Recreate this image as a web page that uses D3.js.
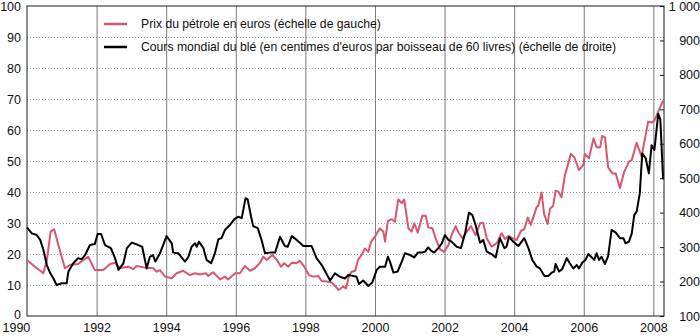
<!DOCTYPE html>
<html><head><meta charset="utf-8">
<script src="https://cdn.jsdelivr.net/npm/d3@7"></script>
<style>
body{margin:0;background:#fff}
svg{display:block}
text{font-family:"Liberation Sans",Arial,Helvetica,sans-serif;fill:#111}
</style>
</head><body>
<svg id="chart" width="700" height="336"></svg>
<script>
// ---------- data ----------
const xTicks = [1990, 1992, 1994, 1996, 1998, 2000, 2002, 2004, 2006, 2008];
const leftTicks = [0, 10, 20, 30, 40, 50, 60, 70, 80, 90, 100];
const rightTicks = [100, 200, 300, 400, 500, 600, 700, 800, 900, 1000];
const legendLabels = [
  "Prix du pétrole en euros (échelle de gauche)",
  "Cours mondial du blé (en centimes d'euros par boisseau de 60 livres) (échelle de droite)"
];
// [decimal year, euros per barrel] (left scale)
const oilPrice = [
[1990.00,18.1],[1990.23,15.9],[1990.47,13.8],[1990.57,18.0],[1990.68,27.2],[1990.78,28.0],[1990.90,23.0],[1991.09,15.4],[1991.24,16.5],[1991.47,16.8],[1991.62,18.1],[1991.76,19.1],[1991.95,14.8],[1992.19,14.8],[1992.39,16.8],[1992.53,17.2],[1992.67,15.5],[1992.91,15.9],[1993.05,15.1],[1993.15,16.1],[1993.39,15.6],[1993.63,15.4],[1993.73,14.3],[1993.82,14.8],[1993.97,12.7],[1994.16,12.2],[1994.30,13.8],[1994.49,14.6],[1994.68,13.2],[1994.83,13.8],[1994.97,13.4],[1995.14,13.8],[1995.21,12.9],[1995.35,14.1],[1995.55,11.8],[1995.69,12.7],[1995.78,11.8],[1995.98,13.8],[1996.12,13.8],[1996.26,16.1],[1996.41,14.6],[1996.55,15.4],[1996.70,17.2],[1996.79,19.1],[1996.89,18.1],[1997.05,19.7],[1997.18,18.1],[1997.30,15.9],[1997.39,17.0],[1997.51,15.9],[1997.61,17.2],[1997.73,17.0],[1997.84,17.8],[1997.97,15.9],[1998.10,13.2],[1998.23,12.7],[1998.37,12.9],[1998.47,11.3],[1998.61,11.1],[1998.76,10.8],[1998.95,8.4],[1999.09,9.5],[1999.17,8.9],[1999.26,13.2],[1999.33,14.3],[1999.43,14.6],[1999.52,18.3],[1999.62,19.7],[1999.71,21.8],[1999.81,20.7],[1999.89,24.0],[2000.00,25.6],[2000.14,28.3],[2000.24,27.2],[2000.29,24.0],[2000.37,30.7],[2000.48,31.2],[2000.57,30.4],[2000.67,37.6],[2000.77,36.4],[2000.84,37.6],[2000.96,28.3],[2001.05,27.2],[2001.13,29.9],[2001.23,26.9],[2001.36,32.3],[2001.46,32.3],[2001.53,28.6],[2001.65,28.3],[2001.74,25.1],[2001.87,21.5],[2001.99,20.7],[2002.11,22.9],[2002.22,26.7],[2002.32,29.0],[2002.41,26.7],[2002.51,25.1],[2002.64,27.2],[2002.76,29.0],[2002.89,26.1],[2003.02,29.9],[2003.11,30.1],[2003.21,25.1],[2003.35,22.4],[2003.50,23.5],[2003.64,26.7],[2003.74,24.8],[2003.83,25.8],[2003.95,25.1],[2004.07,24.5],[2004.20,27.5],[2004.29,28.0],[2004.39,31.8],[2004.48,29.4],[2004.65,35.3],[2004.69,35.5],[2004.79,39.8],[2004.86,32.9],[2004.96,29.7],[2005.03,34.7],[2005.12,35.5],[2005.19,40.4],[2005.27,40.1],[2005.36,38.3],[2005.46,45.5],[2005.63,52.3],[2005.73,51.2],[2005.86,47.1],[2005.99,48.7],[2006.03,52.3],[2006.15,50.9],[2006.28,57.3],[2006.37,54.4],[2006.47,54.4],[2006.53,58.1],[2006.61,57.6],[2006.70,48.0],[2006.82,46.0],[2006.92,46.0],[2007.04,41.2],[2007.16,46.5],[2007.30,49.8],[2007.38,50.3],[2007.52,55.9],[2007.66,51.4],[2007.76,57.3],[2007.85,62.7],[2007.95,62.4],[2008.03,63.0],[2008.14,65.9],[2008.28,69.5]
];
// [decimal year, euro cents per bushel] (right scale)
const wheatPrice = [
[1990.00,357],[1990.14,340],[1990.28,335],[1990.38,321],[1990.47,292],[1990.57,248],[1990.67,224],[1990.76,209],[1990.85,190],[1991.00,195],[1991.14,195],[1991.19,229],[1991.33,253],[1991.47,268],[1991.57,265],[1991.67,277],[1991.81,306],[1991.95,309],[1992.03,338],[1992.13,338],[1992.24,306],[1992.41,297],[1992.53,268],[1992.63,234],[1992.77,253],[1992.87,297],[1993.01,313],[1993.20,306],[1993.31,301],[1993.44,238],[1993.53,272],[1993.62,277],[1993.69,258],[1993.82,282],[1994.01,332],[1994.16,311],[1994.20,284],[1994.35,282],[1994.54,258],[1994.64,272],[1994.73,301],[1994.83,311],[1994.88,301],[1994.94,316],[1995.07,297],[1995.16,263],[1995.29,253],[1995.40,282],[1995.50,323],[1995.59,326],[1995.69,350],[1995.83,364],[1995.96,381],[1996.07,388],[1996.17,384],[1996.28,442],[1996.34,439],[1996.44,388],[1996.50,361],[1996.63,355],[1996.74,321],[1996.84,282],[1996.98,284],[1997.13,284],[1997.27,330],[1997.41,303],[1997.49,301],[1997.61,332],[1997.75,321],[1997.84,313],[1997.94,303],[1998.18,303],[1998.32,268],[1998.47,248],[1998.61,222],[1998.71,203],[1998.85,224],[1998.99,214],[1999.14,209],[1999.23,219],[1999.38,216],[1999.47,214],[1999.54,193],[1999.66,203],[1999.81,187],[1999.92,197],[2000.05,234],[2000.14,243],[2000.29,243],[2000.37,272],[2000.43,258],[2000.53,226],[2000.65,229],[2000.77,258],[2000.86,282],[2001.01,277],[2001.13,270],[2001.23,284],[2001.34,284],[2001.44,287],[2001.53,299],[2001.61,290],[2001.70,284],[2001.82,297],[2001.92,311],[2002.01,335],[2002.11,321],[2002.20,316],[2002.35,301],[2002.47,297],[2002.59,340],[2002.70,400],[2002.80,393],[2002.89,364],[2003.02,313],[2003.11,321],[2003.21,287],[2003.35,280],[2003.47,270],[2003.59,326],[2003.72,297],[2003.78,301],[2003.85,330],[2003.97,316],[2004.12,303],[2004.29,326],[2004.41,297],[2004.52,263],[2004.65,243],[2004.74,238],[2004.87,216],[2004.98,216],[2005.08,226],[2005.15,229],[2005.19,251],[2005.29,229],[2005.38,236],[2005.51,268],[2005.60,253],[2005.70,238],[2005.80,248],[2005.86,238],[2005.96,255],[2006.05,263],[2006.13,280],[2006.21,272],[2006.30,263],[2006.37,282],[2006.44,263],[2006.51,272],[2006.61,251],[2006.70,274],[2006.80,350],[2006.92,342],[2007.04,326],[2007.14,326],[2007.20,311],[2007.30,316],[2007.38,340],[2007.45,393],[2007.52,403],[2007.61,456],[2007.68,572],[2007.78,558],[2007.87,514],[2007.95,596],[2008.03,582],[2008.14,687],[2008.20,671],[2008.28,497]
];
const oilColor = "#d9566f";
const wheatColor = "#000000";

// ---------- layout ----------
const svg = d3.select("#chart");
const X0 = 27, X1 = 664, Y0 = 6, Y1 = 316;
const x = d3.scaleLinear().domain([1990, 2008.3]).range([X0, X1 - 0.2]);
const yL = d3.scaleLinear().domain([0, 100]).range([Y1, Y0]);
const yR = d3.scaleLinear().domain([100, 1000]).range([Y1, Y0]);
const fmtR = d3.formatLocale({decimal: ",", thousands: " ", grouping: [3], currency: ["", "€"]}).format(",d");

// horizontal dotted gridlines
svg.append("g")
  .attr("transform", `translate(${X0},0)`)
  .call(d3.axisLeft(yL).tickValues(leftTicks.filter(d => d > 0 && d < 100)).tickSize(-(X1 - X0)).tickFormat(""))
  .call(g => g.select(".domain").remove())
  .call(g => g.selectAll("line").attr("stroke", "#9a9a9a").attr("stroke-dasharray", "1,2"));

// vertical solid gridlines
svg.append("g")
  .attr("transform", `translate(0,${Y1})`)
  .call(d3.axisBottom(x).tickValues(xTicks.filter(d => d > 1990)).tickSize(-(Y1 - Y0)).tickFormat(""))
  .call(g => g.select(".domain").remove())
  .call(g => g.selectAll("line").attr("stroke", "#7a7a7a").attr("stroke-width", 1));

// frame
svg.append("rect").attr("x", X0).attr("y", Y0).attr("width", X1 - X0).attr("height", Y1 - Y0)
  .attr("fill", "none").attr("stroke", "#1a1a1a").attr("stroke-width", 1);

// left axis labels
svg.append("g")
  .attr("transform", `translate(${X0},0)`)
  .call(d3.axisLeft(yL).tickValues(leftTicks).tickSize(0).tickPadding(6).tickFormat(d3.format("d")))
  .call(g => g.select(".domain").remove())
  .call(g => g.selectAll("text").attr("font-size", 12.5).attr("font-family", null).style("fill", "#111"))
  .call(g => g.selectAll(".tick").filter(d => d === 0).select("text").attr("y", -2));

// bottom axis labels
svg.append("g")
  .attr("transform", `translate(0,${Y1})`)
  .call(d3.axisBottom(x).tickValues(xTicks).tickSize(0).tickPadding(7.5).tickFormat(d3.format("d")))
  .call(g => g.select(".domain").remove())
  .call(g => g.selectAll("text").attr("font-size", 12.5).attr("font-family", null).style("fill", "#111"))
  .call(g => g.selectAll(".tick").filter(d => d === 1990).select("text").attr("text-anchor", "start").attr("x", -25));

// right axis: inward ticks + labels
svg.append("g")
  .attr("transform", `translate(${X1},0)`)
  .call(d3.axisRight(yR).tickValues(rightTicks).tickSize(0).tickPadding(0).tickFormat(fmtR))
  .call(g => g.select(".domain").remove())
  .call(g => g.selectAll(".tick line").attr("x2", -4).attr("stroke", "#1a1a1a"))
  .call(g => g.selectAll("text").attr("font-size", 12.5).attr("font-family", null)
      .attr("text-anchor", "end").attr("x", 700 - X1).style("fill", "#111"));

// data lines
const lineOil = d3.line().x(d => x(d[0])).y(d => yL(d[1]));
const lineWheat = d3.line().x(d => x(d[0])).y(d => yR(d[1]));
svg.append("path").datum(oilPrice).attr("d", lineOil)
  .attr("fill", "none").attr("stroke", oilColor).attr("stroke-width", 2).attr("stroke-linejoin", "round");
svg.append("path").datum(wheatPrice).attr("d", lineWheat)
  .attr("fill", "none").attr("stroke", wheatColor).attr("stroke-width", 2).attr("stroke-linejoin", "round");

// legend
const legend = svg.append("g");
[oilColor, wheatColor].forEach((c, i) => {
  const yy = 24 + i * 23;
  legend.append("line").attr("x1", 104).attr("x2", 127).attr("y1", yy).attr("y2", yy)
    .attr("stroke", c).attr("stroke-width", 2.5);
  legend.append("text").attr("x", 141).attr("y", yy + 4).attr("font-size", 12.2).text(legendLabels[i]);
});
</script>
</body></html>
